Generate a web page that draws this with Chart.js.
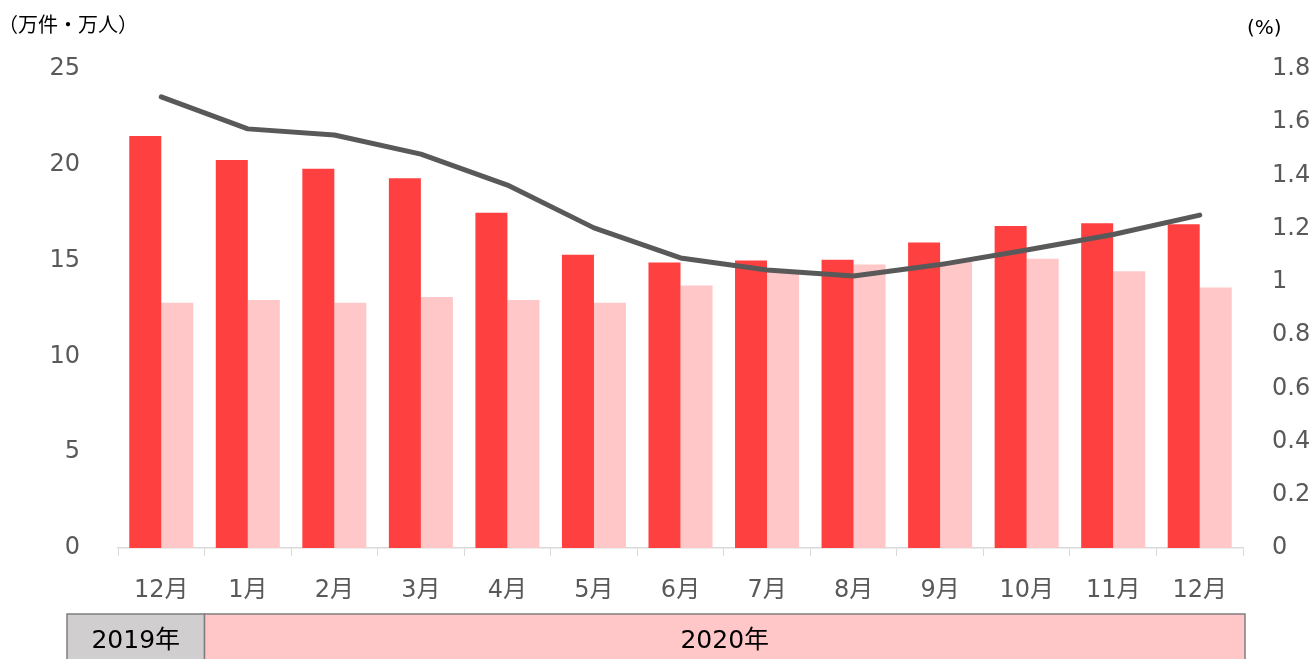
<!DOCTYPE html>
<html lang="ja">
<head>
    <meta charset="UTF-8">
    <title>万件・万人 推移</title>
    <script src="https://cdn.jsdelivr.net/npm/chart.js"></script>
    <style>
        html, body { margin: 0; padding: 0; background: #fff; }
        #wrap { position: relative; width: 1314px; height: 659px; overflow: hidden; }
    </style>
</head>
<body>
<div id="wrap">
    <canvas id="mainChart" width="1314" height="659"></canvas>
</div>
<script>
    // 月ラベル
    const months = ['12月', '1月', '2月', '3月', '4月', '5月', '6月', '7月', '8月', '9月', '10月', '11月', '12月'];
    // 濃い赤の棒 (万件)
    const seriesDark = [21.5, 20.25, 19.8, 19.3, 17.5, 15.3, 14.9, 15.0, 15.05, 15.95, 16.8, 16.95, 16.9];
    // 薄いピンクの棒 (万人)
    const seriesLight = [12.8, 12.95, 12.8, 13.1, 12.95, 12.8, 13.7, 14.4, 14.8, 14.95, 15.1, 14.45, 13.6];
    // 折れ線 (%)
    const seriesRate = [1.695, 1.575, 1.552, 1.48, 1.364, 1.203, 1.09, 1.045, 1.022, 1.065, 1.12, 1.178, 1.251];
    // 年の帯
    const yearLabels = ['2019年', '2020年'];
    const yearSpan = [1, 12]; // 各年の月数

    const FONT = '"DejaVu Sans", "Noto Sans CJK JP", sans-serif';

    // 年の帯と単位ラベルを描くプラグイン
    const extrasPlugin = {
        id: 'extras',
        afterDraw(chart) {
            const ctx = chart.ctx;
            const x = chart.scales.x;
            const area = chart.chartArea;
            const half = (x.getPixelForValue(1) - x.getPixelForValue(0)) / 2;

            ctx.save();
            // 単位
            ctx.fillStyle = '#000';
            ctx.font = '20px ' + FONT;
            ctx.textBaseline = 'middle';
            ctx.textAlign = 'left';
            ctx.fillText('（万件・万人）', -2, 27);
            ctx.fillText('(%)', 1247, 29);

            // 年の帯
            const top = 614, bottom = 672;
            const fills = ['#D0CECE', '#FFC7C7'];
            let start = 0;
            for (let i = 0; i < yearLabels.length; i++) {
                let left = x.getPixelForValue(start) - half;
                if (i === 0) left = area.left - 51;
                const right = x.getPixelForValue(start + yearSpan[i] - 1) + half + (i === yearLabels.length - 1 ? 2 : 0);
                ctx.fillStyle = fills[i];
                ctx.fillRect(left, top, right - left, bottom - top);
                ctx.strokeStyle = '#7F7F7F';
                ctx.lineWidth = 1.5;
                ctx.strokeRect(left, top, right - left, bottom - top);
                ctx.fillStyle = '#000';
                ctx.font = '25px ' + FONT;
                ctx.textAlign = 'center';
                ctx.fillText(yearLabels[i], (left + right) / 2, 641);
                start += yearSpan[i];
            }
            ctx.restore();
        }
    };

    const ctx = document.getElementById('mainChart').getContext('2d');
    new Chart(ctx, {
        type: 'bar',
        data: {
            labels: months,
            datasets: [
                { type: 'line', data: seriesRate, yAxisID: 'y2', borderColor: '#595959', borderWidth: 5,
                  pointRadius: 0, tension: 0, borderCapStyle: 'round', borderJoinStyle: 'round', order: 0 },
                { data: seriesDark, backgroundColor: '#FF4040', yAxisID: 'y', order: 1,
                  categoryPercentage: 0.74, barPercentage: 1 },
                { data: seriesLight, backgroundColor: '#FFC7C7', yAxisID: 'y', order: 1,
                  categoryPercentage: 0.74, barPercentage: 1 }
            ]
        },
        options: {
            responsive: false,
            animation: false,
            layout: { padding: { top: 69, left: 0, right: 0, bottom: 0 } },
            plugins: { legend: { display: false }, tooltip: { enabled: false } },
            scales: {
                x: {
                    grid: { display: true, drawOnChartArea: false, drawTicks: true, tickLength: 8, color: '#D9D9D9', offset: true },
                    border: { display: true, color: '#D9D9D9', width: 1.5 },
                    ticks: { color: '#595959', font: { family: FONT, size: 24 }, padding: 20, maxRotation: 0 },
                    afterFit(s) { s.height = 111; }
                },
                y: {
                    position: 'left',
                    min: 0, max: 25,
                    grid: { display: false },
                    border: { display: false },
                    ticks: { stepSize: 5, color: '#595959', font: { family: FONT, size: 24 }, padding: 30 },
                    afterFit(s) { s.width = 118; }
                },
                y2: {
                    position: 'right',
                    min: 0, max: 1.8,
                    grid: { display: false },
                    border: { display: false },
                    ticks: { stepSize: 0.2, color: '#595959', font: { family: FONT, size: 24 }, padding: 21,
                             callback: v => String(Number(v.toFixed(1))) },
                    afterFit(s) { s.width = 71; }
                }
            }
        },
        plugins: [extrasPlugin]
    });
</script>
</body>
</html>
